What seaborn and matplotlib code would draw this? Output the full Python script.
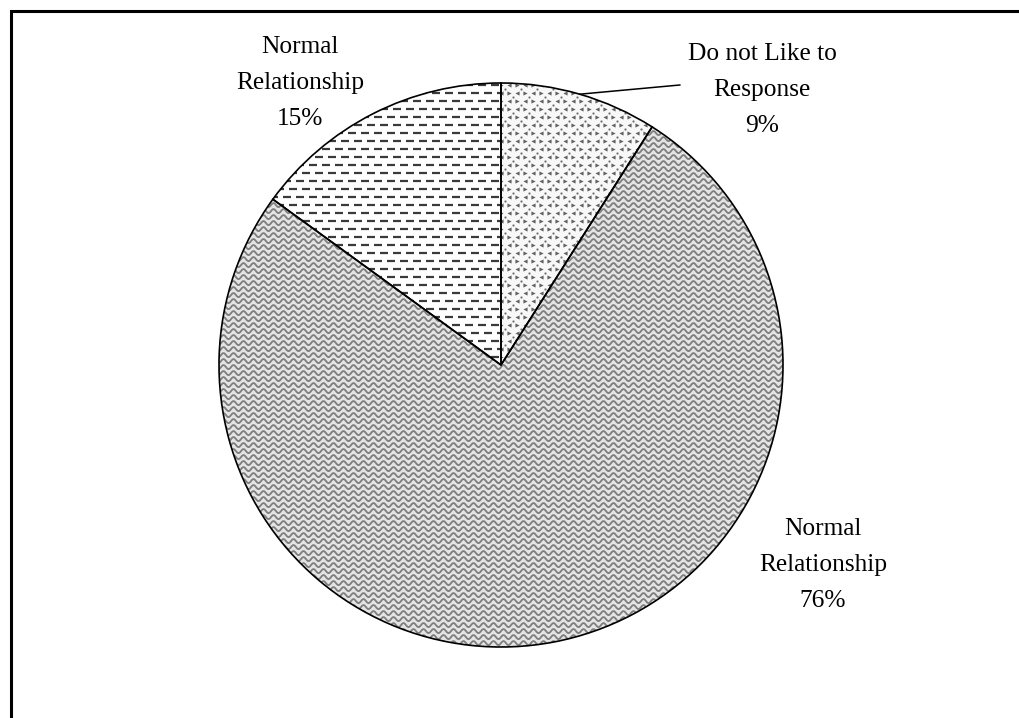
import numpy as np
import matplotlib
matplotlib.use("Agg")
import matplotlib.pyplot as plt
from matplotlib.collections import LineCollection
from matplotlib.patches import Rectangle, Wedge
import seaborn as sns

# Survey shares, clockwise from 12 o'clock
categories = ["Do not Like to\nResponse", "Normal\nRelationship", "Normal\nRelationship"]
shares = [9, 76, 15]

sns.set_theme(style="white")
plt.rcParams["font.family"] = ["Liberation Serif", "DejaVu Serif"]

W, H, DPI = 1019, 718, 100
fig = plt.figure(figsize=(W / DPI, H / DPI), dpi=DPI)
ax = fig.add_axes([0, 0, 1, 1])

# pixel geometry of the pie: centre and radius
R_PX, CX, CY = 282, 501, 365
px = 1 / R_PX

base = ["#f8f8f8", "#e4e4e4", "#ffffff"]
wedges, _ = ax.pie(shares, colors=base, startangle=90, counterclock=False,
                   wedgeprops=dict(linewidth=0))
ax.set_aspect("auto")
ax.set_xlim(-CX * px, (W - CX) * px)
ax.set_ylim(-(H - CY) * px, CY * px)
ax.axis("off")

span = np.arange(-1.05, 1.05, 0.5 * px)

# wavy texture for the large slice
period, amp = 10 * px, 2.0 * px
wave_segs = [np.column_stack([span, y + amp * np.sin(2 * np.pi * span / period)])
             for y in np.arange(-1.05, 1.05, 6 * px)]
waves = LineCollection(wave_segs, colors="#7d7d7d", linewidths=1.3, zorder=2)
ax.add_collection(waves)
waves.set_clip_path(wedges[1])

# dashed texture for the small left slice
dash_segs = []
for i, y in enumerate(np.arange(-1.05, 1.05, 8 * px)):
    off = (i % 2) * 6.5 * px
    for x0 in np.arange(-1.05 + off, 1.05, 13 * px):
        dash_segs.append([(x0, y), (x0 + 8 * px, y)])
dashes = LineCollection(dash_segs, colors="#3a3a3a", linewidths=1.6, zorder=2)
ax.add_collection(dashes)
dashes.set_clip_path(wedges[2])

# speckled texture for the top slice
gx, gy = np.meshgrid(np.arange(-0.2, 1.05, 16 * px), np.arange(-0.2, 1.05, 8 * px))
gx = gx + (np.arange(gx.shape[0])[:, None] % 2) * 8 * px
for marker, dx in (("<", 0.0), (">", 8 * px)):
    sc = ax.scatter(gx.ravel() + dx, gy.ravel(), marker=marker, s=9,
                    color="#606060", linewidths=0, zorder=2)
    sc.set_clip_path(wedges[0])
dots = ax.scatter(gx.ravel() + 4 * px, gy.ravel() + 4 * px, marker="o", s=2.5,
                  color="#707070", linewidths=0, zorder=2)
dots.set_clip_path(wedges[0])

# slice outlines
for w in wedges:
    ax.add_patch(Wedge(w.center, w.r, w.theta1, w.theta2, fill=False,
                       edgecolor="black", linewidth=1.2, zorder=4))

# labels
label_pos = [(0.9255, 0.975), (1.142, -0.709), (-0.713, 1.0)]
for cat, val, (lx, ly) in zip(categories, shares, label_pos):
    ax.text(lx, ly, f"{cat}\n{val}%", ha="center", va="center",
            fontsize=18.3, color="black", linespacing=1.8)

# leader line for the top slice
w0 = wedges[0]
mid = np.deg2rad((w0.theta1 + w0.theta2) / 2)
ax.plot([np.cos(mid), 0.635], [np.sin(mid), 0.993], color="black", lw=1.1, zorder=5)

# chart frame
fig.add_artist(Rectangle((10.5 / W, -0.5), 2, 0.5 + (H - 11) / H,
                         transform=fig.transFigure, fill=False,
                         edgecolor="black", linewidth=2.2))

fig.savefig("out.png", dpi=DPI)
